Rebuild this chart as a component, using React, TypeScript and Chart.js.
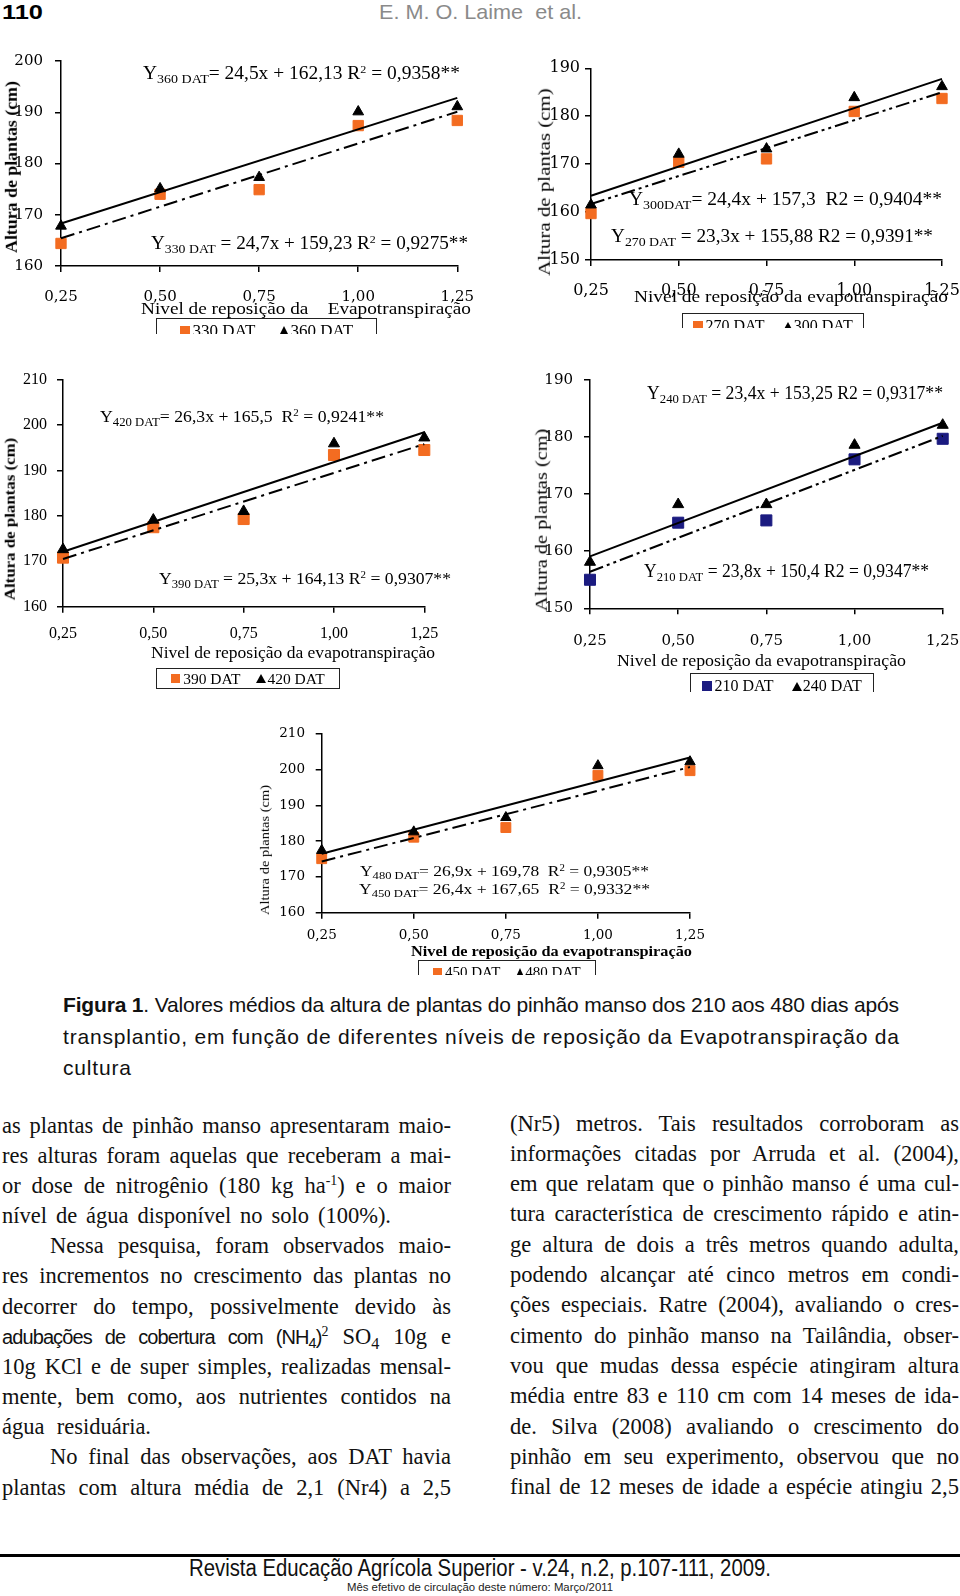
import React, { useEffect, useLayoutEffect, useRef } from "react";
import { Chart, registerables } from "chart.js";
Chart.register(...registerables);

// ---------------- data ----------------
const xLevels = [0.25, 0.5, 0.75, 1.0, 1.25];
const xTickLabels = ["0,25", "0,50", "0,75", "1,00", "1,25"];
const trendX = [0.25, 1.25];

const yTicks160to200 = [160, 170, 180, 190, 200];
const yTicks150to190 = [150, 160, 170, 180, 190];
const yTicks160to210 = [160, 170, 180, 190, 200, 210];

// panel A: 330 / 360 DAT
const h330 = [164.4, 174.0, 174.9, 187.4, 188.4];
const h360 = [167.8, 175.1, 177.3, 190.1, 191.1];
const trend330 = [165.4, 190.1];
const trend360 = [168.3, 192.8];
// panel B: 270 / 300 DAT
const h270 = [159.7, 170.4, 171.1, 181.0, 183.7];
const h300 = [161.5, 172.1, 173.2, 183.9, 186.2];
const trend270 = [161.7, 185.0];
const trend300 = [163.4, 187.8];
// panel C: 390 / 420 DAT
const h390 = [170.8, 177.5, 179.3, 193.4, 194.5];
const h420 = [172.6, 179.1, 181.0, 195.9, 197.2];
const trend390 = [170.5, 195.8];
const trend420 = [172.1, 198.4];
// panel D: 210 / 240 DAT
const h210 = [155.0, 165.0, 165.4, 176.1, 179.7];
const h240 = [158.1, 168.2, 168.2, 178.6, 182.1];
const trend210 = [156.4, 180.2];
const trend240 = [159.1, 182.5];
// panel E: 450 / 480 DAT
const h450 = [175.1, 181.1, 183.8, 198.4, 199.7];
const h480 = [177.4, 182.6, 186.6, 201.1, 202.2];
const trend450 = [174.3, 200.7];
const trend480 = [176.5, 203.4];

const ORANGE = "#f36c21";
const NAVY = "#1b1b80";
const SERIF = '"Liberation Serif", "Times New Roman", serif';
const SANS = '"Liberation Sans", Arial, sans-serif';
const DJS = "DejaVu Serif";
const DASH_DOT = [14, 5, 3, 5];
const DASH_DOT_DOT = [14, 4, 3, 4, 3, 4];

// ---------------- helpers ----------------
type Box = { l: number; t: number; w: number; h: number };
type Plot = { l: number; t: number; r: number; b: number };
type PanelProps = {
  box: Box;
  plot: Plot;
  yTicks: number[];
  font: { family: string; size: number; weight?: string };
  xPad: number;
  yPad: number;
  sq: number[];
  tri: number[];
  sqTrend: number[];
  triTrend: number[];
  sqColor: string;
  sqDash: number[];
  sqR: number;
  triR: number;
};

function Panel(p: PanelProps) {
  const ref = useRef<HTMLCanvasElement>(null);
  useEffect(() => {
    if (!ref.current) return;
    const pts = (ys: number[], xs: number[]) => ys.map((y, i) => ({ x: xs[i], y }));
    const axisCommon = {
      grid: { drawOnChartArea: false, drawTicks: true, tickLength: 6, color: "#000", lineWidth: 1.5 },
      border: { display: true, color: "#000", width: 1.5 },
    };
    const chart = new Chart(ref.current, {
      type: "scatter",
      data: {
        datasets: [
          { type: "line", data: pts(p.triTrend, trendX), borderColor: "#000", borderWidth: 2, pointRadius: 0, clip: false, fill: false } as any,
          { type: "line", data: pts(p.sqTrend, trendX), borderColor: "#000", borderWidth: 2, borderDash: p.sqDash, pointRadius: 0, clip: false, fill: false } as any,
          { data: pts(p.tri, xLevels), pointStyle: "triangle", pointRadius: p.triR, backgroundColor: "#000", borderColor: "#000", borderWidth: 1, clip: false } as any,
          { data: pts(p.sq, xLevels), pointStyle: "rect", pointRadius: p.sqR, backgroundColor: p.sqColor, borderColor: p.sqColor, borderWidth: 1, clip: false } as any,
        ],
      },
      options: {
        animation: false,
        responsive: false,
        maintainAspectRatio: false,
        events: [],
        layout: {
          padding: { left: 0, bottom: 0, top: p.plot.t - p.box.t, right: p.box.l + p.box.w - p.plot.r },
        },
        plugins: { legend: { display: false }, tooltip: { enabled: false }, title: { display: false } },
        scales: {
          x: {
            type: "linear",
            min: xLevels[0],
            max: xLevels[xLevels.length - 1],
            afterBuildTicks: (s: any) => {
              s.ticks = xLevels.map((v) => ({ value: v }));
            },
            ticks: {
              autoSkip: false,
              maxRotation: 0,
              font: p.font,
              color: "#000",
              padding: p.xPad,
              callback: (v: any) => {
                const i = xLevels.findIndex((x) => Math.abs(x - Number(v)) < 1e-6);
                return i >= 0 ? xTickLabels[i] : "";
              },
            },
            ...axisCommon,
            afterFit: (s: any) => {
              s.height = p.box.t + p.box.h - p.plot.b;
            },
          },
          y: {
            type: "linear",
            min: p.yTicks[0],
            max: p.yTicks[p.yTicks.length - 1],
            afterBuildTicks: (s: any) => {
              s.ticks = p.yTicks.map((v) => ({ value: v }));
            },
            ticks: { font: p.font, color: "#000", padding: p.yPad, callback: (v: any) => String(v) },
            ...axisCommon,
            afterFit: (s: any) => {
              s.width = p.plot.l - p.box.l;
            },
          },
        } as any,
      },
    });
    return () => chart.destroy();
  }, []);
  return (
    <canvas
      ref={ref}
      width={p.box.w}
      height={p.box.h}
      style={{ position: "absolute", left: p.box.l, top: p.box.t, width: p.box.w, height: p.box.h }}
    />
  );
}

type LabelProps = {
  x: number;
  y: number;
  w?: number;
  size: number;
  font?: string;
  weight?: number | string;
  color?: string;
  mode?: "scale" | "letter" | "word" | "none";
  squeeze?: number;
  children: React.ReactNode;
};

function Label({ x, y, w, size, font = SERIF, weight = 400, color = "#000", mode = "scale", squeeze = 1, children }: LabelProps) {
  const ref = useRef<HTMLDivElement>(null);
  useLayoutEffect(() => {
    const el = ref.current;
    if (!el || !w || mode === "none") return;
    el.style.transform = "none";
    el.style.letterSpacing = "";
    el.style.wordSpacing = "";
    const nat = el.getBoundingClientRect().width;
    if (nat <= 0) return;
    const text = el.textContent || "";
    const tw = w / squeeze;
    if (mode === "scale") {
      el.style.transform = `scaleX(${w / nat})`;
    } else {
      const spaces = (text.match(/ /g) || []).length;
      if (mode === "word" && spaces > 0 && tw >= nat) {
        el.style.wordSpacing = `${(tw - nat) / spaces}px`;
      } else {
        el.style.letterSpacing = `${(tw - nat) / Math.max(1, text.length - 1)}px`;
      }
      if (squeeze !== 1) el.style.transform = `scaleX(${squeeze})`;
    }
  });
  return (
    <div
      ref={ref}
      style={{
        position: "absolute",
        left: x,
        top: y - size * 0.6,
        fontFamily: font,
        fontSize: size,
        fontWeight: weight as any,
        color,
        lineHeight: `${size * 1.2}px`,
        whiteSpace: "pre",
        transformOrigin: "0 50%",
      }}
    >
      {children}
    </div>
  );
}

function VLabel({ cx, cy, len, size, font = SERIF, weight = 400, children }: { cx: number; cy: number; len: number; size: number; font?: string; weight?: number; children: React.ReactNode }) {
  const ref = useRef<HTMLDivElement>(null);
  useLayoutEffect(() => {
    const el = ref.current;
    if (!el) return;
    const nat = el.offsetWidth || 1;
    el.style.transform = `translate(-50%,-50%) rotate(-90deg) scaleX(${len / nat})`;
  });
  return (
    <div
      ref={ref}
      style={{
        position: "absolute",
        left: cx,
        top: cy,
        fontFamily: font,
        fontSize: size,
        fontWeight: weight,
        whiteSpace: "pre",
        lineHeight: `${size * 1.2}px`,
        transform: "translate(-50%,-50%) rotate(-90deg)",
      }}
    >
      {children}
    </div>
  );
}

const Sub = ({ children }: { children: React.ReactNode }) => (
  <span style={{ fontSize: "0.72em", verticalAlign: "-0.3em", lineHeight: 0 }}>{children}</span>
);
const Sup = ({ children }: { children: React.ReactNode }) => (
  <span style={{ fontSize: "0.62em", verticalAlign: "0.55em", lineHeight: 0 }}>{children}</span>
);

type LegendItem = { kind: "sq" | "tri"; color: string; label: string };
function Legend({ x, y, w, h, clipH, size, items, gap }: { x: number; y: number; w: number; h: number; clipH: number; size: number; items: LegendItem[]; gap: number }) {
  return (
    <div style={{ position: "absolute", left: x, top: y, width: w, height: clipH, overflow: "hidden" }}>
      <div
        style={{
          position: "absolute",
          left: 0,
          top: 0,
          width: w,
          height: h,
          boxSizing: "border-box",
          border: "1.5px solid #222",
          display: "flex",
          alignItems: "center",
          justifyContent: "center",
          gap,
          fontFamily: SERIF,
          fontSize: size,
          whiteSpace: "pre",
          color: "#000",
        }}
      >
        {items.map((it, i) => (
          <span key={i} style={{ display: "flex", alignItems: "center" }}>
            {it.kind === "sq" ? (
              <span style={{ display: "inline-block", width: size * 0.58, height: size * 0.58, background: it.color, marginRight: 3 }} />
            ) : (
              <span
                style={{
                  display: "inline-block",
                  width: 0,
                  height: 0,
                  borderLeft: `${size * 0.33}px solid transparent`,
                  borderRight: `${size * 0.33}px solid transparent`,
                  borderBottom: `${size * 0.6}px solid ${it.color}`,
                  marginRight: 1,
                }}
              />
            )}
            {it.label}
          </span>
        ))}
      </div>
    </div>
  );
}

// body text lines
const LH_L = 30.17;
const LH_R = 30.33;
const BODY = 22.5;

export default function App() {
  return (
    <div style={{ position: "absolute", left: 0, top: 0, width: 960, height: 1596, background: "#fff", overflow: "hidden" }}>
      {/* header */}
      <Label x={2} y={12} w={41} size={21} font={SANS} weight={700}>110</Label>
      <Label x={379} y={12} w={203} size={21} font={SANS} color="#8a8a8a">E. M. O. Laime  et al.</Label>

      {/* ---------- Panel A (330/360) ---------- */}
      <Panel
        box={{ l: 0, t: 40, w: 490, h: 270 }}
        plot={{ l: 61, t: 55.7, r: 461, b: 266 }}
        yTicks={yTicks160to200}
        font={{ family: DJS, size: 15 }}
        xPad={16}
        yPad={12}
        sq={h330}
        tri={h360}
        sqTrend={trend330}
        triTrend={trend360}
        sqColor={ORANGE}
        sqDash={DASH_DOT}
        sqR={7.3}
        triR={6.2}
      />
      <VLabel cx={12} cy={167} len={172} size={17} weight={700}>Altura de plantas (cm)</VLabel>
      <Label x={143} y={74} w={317} size={18}>
        Y<Sub>360 DAT</Sub>= 24,5x + 162,13 R<Sup>2</Sup> = 0,9358**
      </Label>
      <Label x={151} y={244} w={317} size={18}>
        Y<Sub>330 DAT</Sub> = 24,7x + 159,23 R<Sup>2</Sup> = 0,9275**
      </Label>
      <Label x={141} y={309} w={330} size={17}>Nivel de reposição da    Evapotranspiração</Label>
      <Legend
        x={156}
        y={318}
        w={221}
        h={26}
        clipH={16}
        size={17}
        gap={24}
        items={[
          { kind: "sq", color: ORANGE, label: "330 DAT" },
          { kind: "tri", color: "#000", label: "360 DAT" },
        ]}
      />

      {/* ---------- Panel B (270/300) ---------- */}
      <Panel
        box={{ l: 520, t: 50, w: 460, h: 255 }}
        plot={{ l: 591, t: 68.3, r: 942, b: 260 }}
        yTicks={yTicks150to190}
        font={{ family: DJS, size: 16 }}
        xPad={15}
        yPad={5}
        sq={h270}
        tri={h300}
        sqTrend={trend270}
        triTrend={trend300}
        sqColor={ORANGE}
        sqDash={DASH_DOT_DOT}
        sqR={7.3}
        triR={6.2}
      />
      <VLabel cx={545} cy={182} len={187} size={17}>Altura de plantas (cm)</VLabel>
      <Label x={629} y={200} w={313} size={18}>
        Y<Sub>300DAT</Sub>= 24,4x + 157,3  R2 = 0,9404**
      </Label>
      <Label x={611} y={236.5} w={322} size={18}>
        Y<Sub>270 DAT</Sub> = 23,3x + 155,88 R2 = 0,9391**
      </Label>
      <Label x={634} y={297} w={314} size={17}>Nivel de reposição da evapotranspiração</Label>
      <Legend
        x={682}
        y={313}
        w={182}
        h={26}
        clipH={15}
        size={16}
        gap={18}
        items={[
          { kind: "sq", color: ORANGE, label: "270 DAT" },
          { kind: "tri", color: "#000", label: "300 DAT" },
        ]}
      />

      {/* ---------- Panel C (390/420) ---------- */}
      <Panel
        box={{ l: 0, t: 360, w: 460, h: 290 }}
        plot={{ l: 63, t: 378.3, r: 424.3, b: 606.7 }}
        yTicks={yTicks160to210}
        font={{ family: "Liberation Serif", size: 16 }}
        xPad={11.7}
        yPad={10}
        sq={h390}
        tri={h420}
        sqTrend={trend390}
        triTrend={trend420}
        sqColor={ORANGE}
        sqDash={DASH_DOT}
        sqR={7.8}
        triR={6.4}
      />
      <VLabel cx={10} cy={519} len={162} size={15.5} weight={700}>Altura de plantas (cm)</VLabel>
      <Label x={100} y={416.5} w={284} size={16.5}>
        Y<Sub>420 DAT</Sub>= 26,3x + 165,5  R<Sup>2</Sup> = 0,9241**
      </Label>
      <Label x={159} y={578.5} w={292} size={16.5}>
        Y<Sub>390 DAT</Sub> = 25,3x + 164,13 R<Sup>2</Sup> = 0,9307**
      </Label>
      <Label x={151} y={653} w={284} size={17}>Nivel de reposição da evapotranspiração</Label>
      <Legend
        x={156}
        y={668}
        w={184}
        h={21}
        clipH={21}
        size={15.5}
        gap={16}
        items={[
          { kind: "sq", color: ORANGE, label: "390 DAT" },
          { kind: "tri", color: "#000", label: "420 DAT" },
        ]}
      />

      {/* ---------- Panel D (210/240) ---------- */}
      <Panel
        box={{ l: 520, t: 360, w: 460, h: 295 }}
        plot={{ l: 590, t: 377.3, r: 942.7, b: 608.3 }}
        yTicks={yTicks150to190}
        font={{ family: DJS, size: 15 }}
        xPad={17.7}
        yPad={11}
        sq={h210}
        tri={h240}
        sqTrend={trend210}
        triTrend={trend240}
        sqColor={NAVY}
        sqDash={DASH_DOT_DOT}
        sqR={7.8}
        triR={6.4}
      />
      <VLabel cx={542} cy={520} len={182} size={17}>Altura de plantas (cm)</VLabel>
      <Label x={647} y={394} w={296} size={18}>
        Y<Sub>240 DAT</Sub> = 23,4x + 153,25 R2 = 0,9317**
      </Label>
      <Label x={644} y={572} w={285} size={18}>
        Y<Sub>210 DAT</Sub> = 23,8x + 150,4 R2 = 0,9347**
      </Label>
      <Label x={617} y={661} w={289} size={17}>Nivel de reposição da evapotranspiração</Label>
      <Legend
        x={690}
        y={673}
        w={184}
        h={26}
        clipH={19}
        size={16}
        gap={18}
        items={[
          { kind: "sq", color: NAVY, label: "210 DAT" },
          { kind: "tri", color: "#000", label: "240 DAT" },
        ]}
      />

      {/* ---------- Panel E (450/480) ---------- */}
      <Panel
        box={{ l: 240, t: 715, w: 480, h: 235 }}
        plot={{ l: 321.7, t: 730, r: 690, b: 912.7 }}
        yTicks={yTicks160to210}
        font={{ family: DJS, size: 13.5 }}
        xPad={8.4}
        yPad={10.7}
        sq={h450}
        tri={h480}
        sqTrend={trend450}
        triTrend={trend480}
        sqColor={ORANGE}
        sqDash={DASH_DOT}
        sqR={7}
        triR={6}
      />
      <VLabel cx={265} cy={850} len={130} size={13.5}>Altura de plantas (cm)</VLabel>
      <Label x={360} y={870.5} w={289} size={15}>
        Y<Sub>480 DAT</Sub>= 26,9x + 169,78  R<Sup>2</Sup> = 0,9305**
      </Label>
      <Label x={359} y={888.5} w={291} size={15}>
        Y<Sub>450 DAT</Sub>= 26,4x + 167,65  R<Sup>2</Sup> = 0,9332**
      </Label>
      <Label x={411} y={952.5} w={281} size={14} weight={700}>Nivel de reposição da evapotranspiração</Label>
      <Legend
        x={418}
        y={960}
        w={178}
        h={24}
        clipH={15}
        size={15}
        gap={16}
        items={[
          { kind: "sq", color: ORANGE, label: "450 DAT" },
          { kind: "tri", color: "#000", label: "480 DAT" },
        ]}
      />

      {/* ---------- caption ---------- */}
      <Label x={63} y={1005} w={836} size={21} font={SANS} mode="word" color="#111">
        <b>Figura 1</b>. Valores médios da altura de plantas do pinhão manso dos 210 aos 480 dias após
      </Label>
      <Label x={63} y={1037} w={836} size={21} font={SANS} mode="letter" color="#111">
        transplantio, em função de diferentes níveis de reposição da Evapotranspiração da
      </Label>
      <Label x={63} y={1068} w={68} size={21} font={SANS} mode="letter" color="#111">cultura</Label>

      {/* ---------- body, left column ---------- */}
      <Label x={2} y={1125 + LH_L * 0} w={449} size={BODY} mode="word" color="#111">as plantas de pinhão manso apresentaram maio-</Label>
      <Label x={2} y={1125 + LH_L * 1} w={449} size={BODY} mode="word" color="#111">res alturas foram aquelas que receberam a mai-</Label>
      <Label x={2} y={1125 + LH_L * 2} w={449} size={BODY} mode="word" color="#111">
        or dose de nitrogênio (180 kg ha<Sup>-1</Sup>) e o maior
      </Label>
      <Label x={2} y={1125 + LH_L * 3} w={389} size={BODY} mode="word" color="#111">nível de água disponível no solo (100%).</Label>
      <Label x={50} y={1125 + LH_L * 4} w={401} size={BODY} mode="word" color="#111">Nessa pesquisa, foram observados maio-</Label>
      <Label x={2} y={1125 + LH_L * 5} w={449} size={BODY} mode="word" color="#111">res incrementos no crescimento das plantas no</Label>
      <Label x={2} y={1125 + LH_L * 6} w={449} size={BODY} mode="word" color="#111">decorrer do tempo, possivelmente devido às</Label>
      <Label x={2} y={1125 + LH_L * 7} w={449} size={BODY} mode="word" color="#111">
        <span style={{ fontFamily: SANS, fontSize: 20, letterSpacing: -0.9 }}>adubações de cobertura com (NH<Sub>4</Sub>)</span>
        <Sup>2</Sup> SO<Sub>4</Sub> 10g e
      </Label>
      <Label x={2} y={1125 + LH_L * 8} w={449} size={BODY} mode="word" color="#111">10g KCl e de super simples, realizadas mensal-</Label>
      <Label x={2} y={1125 + LH_L * 9} w={449} size={BODY} mode="word" color="#111">mente, bem como, aos nutrientes contidos na</Label>
      <Label x={2} y={1125 + LH_L * 10} w={149} size={BODY} mode="word" color="#111">água residuária.</Label>
      <Label x={50} y={1125 + LH_L * 11} w={401} size={BODY} mode="word" color="#111">No final das observações, aos DAT havia</Label>
      <Label x={2} y={1125 + LH_L * 12} w={449} size={BODY} mode="word" color="#111">plantas com altura média de 2,1 (Nr4) a 2,5</Label>

      {/* ---------- body, right column ---------- */}
      <Label x={510} y={1123 + LH_R * 0} w={449} size={BODY} mode="word" color="#111">(Nr5) metros. Tais resultados corroboram as</Label>
      <Label x={510} y={1123 + LH_R * 1} w={449} size={BODY} mode="word" color="#111">informações citadas por Arruda et al. (2004),</Label>
      <Label x={510} y={1123 + LH_R * 2} w={449} size={BODY} mode="word" color="#111">em que relatam que o pinhão manso é uma cul-</Label>
      <Label x={510} y={1123 + LH_R * 3} w={449} size={BODY} mode="word" color="#111">tura característica de crescimento rápido e atin-</Label>
      <Label x={510} y={1123 + LH_R * 4} w={449} size={BODY} mode="word" color="#111">ge altura de dois a três metros quando adulta,</Label>
      <Label x={510} y={1123 + LH_R * 5} w={449} size={BODY} mode="word" color="#111">podendo alcançar até cinco metros em condi-</Label>
      <Label x={510} y={1123 + LH_R * 6} w={449} size={BODY} mode="word" color="#111">ções especiais. Ratre (2004), avaliando o cres-</Label>
      <Label x={510} y={1123 + LH_R * 7} w={449} size={BODY} mode="word" color="#111">cimento do pinhão manso na Tailândia, obser-</Label>
      <Label x={510} y={1123 + LH_R * 8} w={449} size={BODY} mode="word" color="#111">vou que mudas dessa espécie atingiram altura</Label>
      <Label x={510} y={1123 + LH_R * 9} w={449} size={BODY} mode="word" color="#111">média entre 83 e 110 cm com 14 meses de ida-</Label>
      <Label x={510} y={1123 + LH_R * 10} w={449} size={BODY} mode="word" color="#111">de. Silva (2008) avaliando o crescimento do</Label>
      <Label x={510} y={1123 + LH_R * 11} w={449} size={BODY} mode="word" color="#111">pinhão em seu experimento, observou que no</Label>
      <Label x={510} y={1123 + LH_R * 12} w={449} size={BODY} mode="word" color="#111">final de 12 meses de idade a espécie atingiu 2,5</Label>

      {/* ---------- footer ---------- */}
      <div style={{ position: "absolute", left: 0, top: 1554, width: 960, height: 3, background: "#000" }} />
      <Label x={189} y={1569} w={582} size={23} font={SANS} color="#111">
        Revista Educação Agrícola Superior - v.24, n.2, p.107-111, 2009.
      </Label>
      <Label x={347} y={1588} w={266} size={11.5} font={SANS} color="#222">
        Mês efetivo de circulação deste número: Março/2011
      </Label>
    </div>
  );
}
